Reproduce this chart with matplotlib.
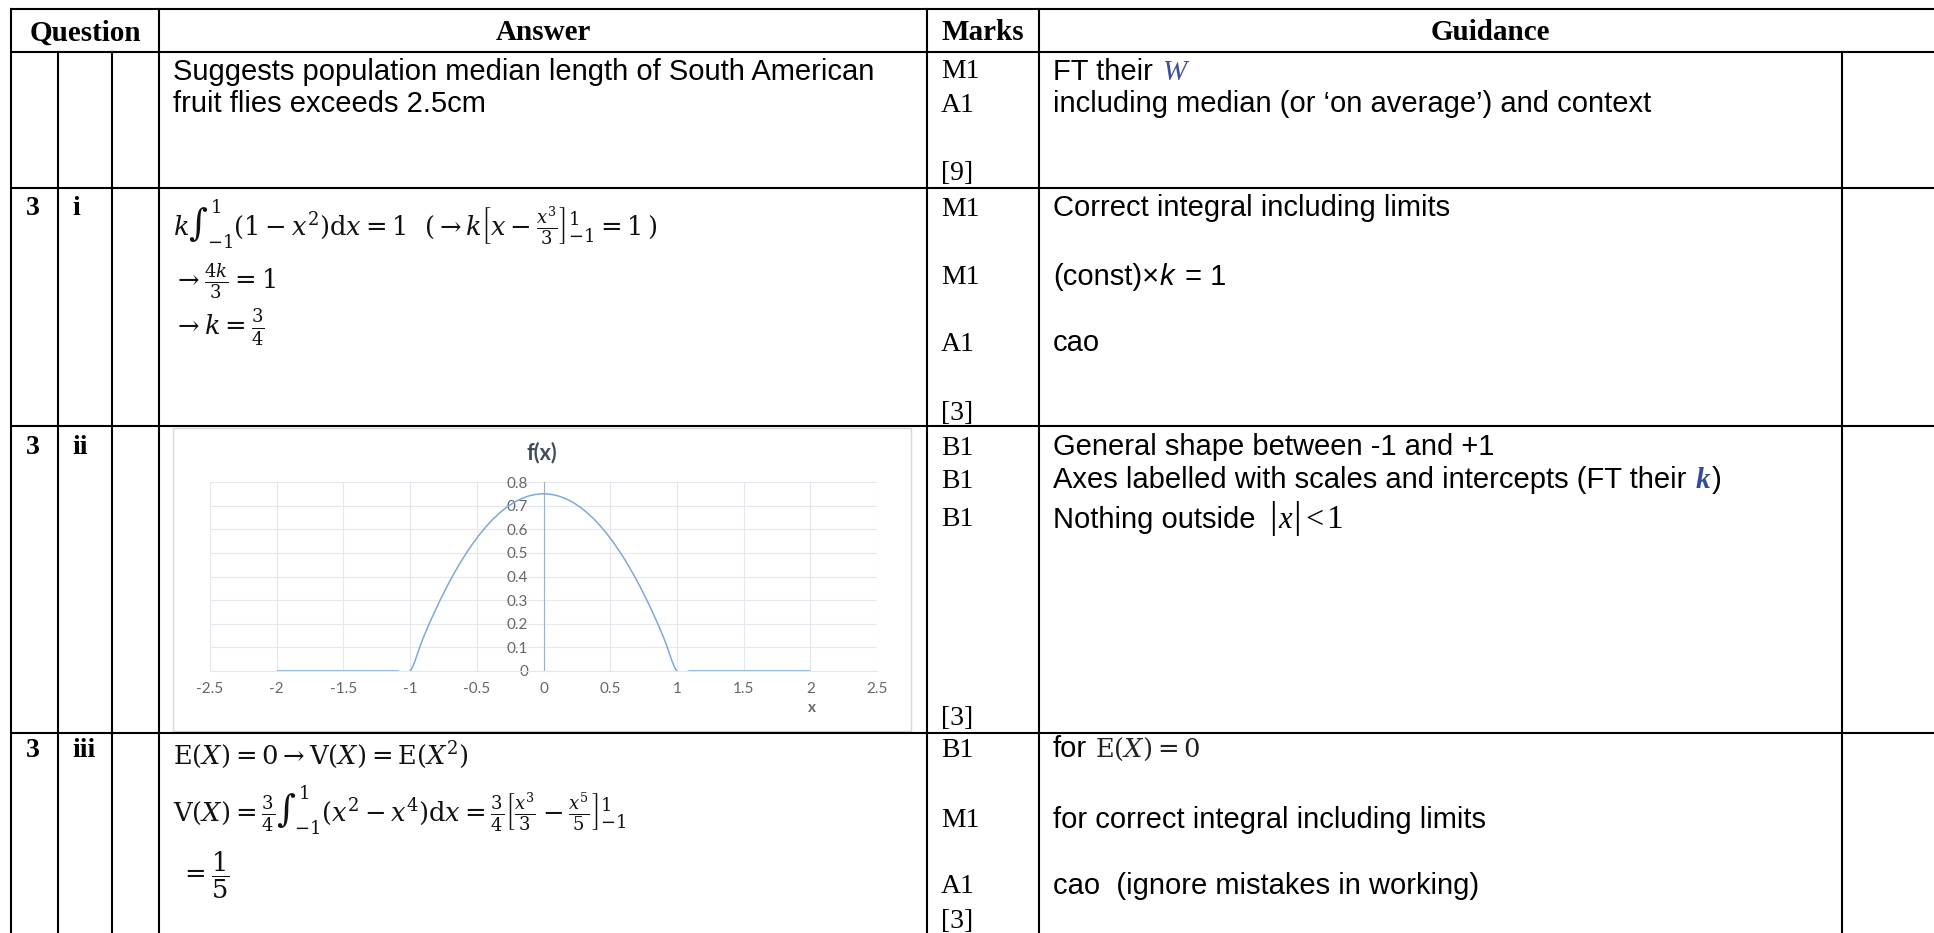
import numpy as np
import matplotlib
matplotlib.use('Agg')
import matplotlib.pyplot as plt
from matplotlib.path import Path
from matplotlib.patches import PathPatch, Rectangle
from matplotlib.mathtext import MathTextParser

W, H = 1934, 933
plt.rcParams['mathtext.fontset'] = 'dejavuserif'

# ---------------- data ----------------
headers = ["Question", "Answer", "Marks", "Guidance"]

x_vals = [-2.0, -1.9, -1.8, -1.7, -1.6, -1.5, -1.4, -1.3, -1.2, -1.1,
          -1.0, -0.9, -0.8, -0.7, -0.6, -0.5, -0.4, -0.3, -0.2, -0.1,
          0.0, 0.1, 0.2, 0.3, 0.4, 0.5, 0.6, 0.7, 0.8, 0.9,
          1.0, 1.1, 1.2, 1.3, 1.4, 1.5, 1.6, 1.7, 1.8, 1.9, 2.0]
f_vals = [0, 0, 0, 0, 0, 0, 0, 0, 0, 0,
          0, 0.1425, 0.27, 0.3825, 0.48, 0.5625, 0.63, 0.6825, 0.72, 0.7425,
          0.75, 0.7425, 0.72, 0.6825, 0.63, 0.5625, 0.48, 0.3825, 0.27, 0.1425,
          0, 0, 0, 0, 0, 0, 0, 0, 0, 0, 0]
x_ticks = [-2.5, -2, -1.5, -1, -0.5, 0, 0.5, 1, 1.5, 2, 2.5]
x_tick_labels = ["-2.5", "-2", "-1.5", "-1", "-0.5", "0", "0.5", "1", "1.5", "2", "2.5"]
y_ticks = [0, 0.1, 0.2, 0.3, 0.4, 0.5, 0.6, 0.7, 0.8]
y_tick_labels = ["0", "0.1", "0.2", "0.3", "0.4", "0.5", "0.6", "0.7", "0.8"]
chart_title = "f(x)"
x_axis_title = "x"

row1_answer = ["Suggests population median length of South American",
               "fruit flies exceeds 2.5cm"]
row1_marks = ["M1", "A1", "[9]"]
row1_guid2 = "including median (or \u2018on average\u2019) and context"

r3i_marks = ["M1", "M1", "A1", "[3]"]
r3ii_marks = ["B1", "B1", "B1", "[3]"]
r3iii_marks = ["B1", "M1", "A1", "[3]"]

# ---------------- figure ----------------
fig = plt.figure(figsize=(W / 100, H / 100), dpi=100)
ax0 = fig.add_axes([0, 0, 1, 1])
ax0.set_xlim(0, W)
ax0.set_ylim(H, 0)
ax0.axis('off')
renderer = fig.canvas.get_renderer()

SERIF = 'Liberation Serif'
SANS = 'Liberation Sans'
LW = 1.5
K = 'black'

def hline(y, x0, x1):
    ax0.plot([x0, x1], [y, y], color=K, lw=LW, solid_capstyle='projecting')

def vline(x, y0, y1):
    ax0.plot([x, x], [y0, y1], color=K, lw=LW, solid_capstyle='projecting')

# table grid
hline(9, 11, W)
hline(52, 11, W)
for yy in [188, 426, 733]:
    hline(yy, 11, W)
vline(11, 9, H)
vline(58, 52, H)
vline(112, 52, H)
vline(159, 9, H)
vline(927, 9, H)
vline(1039, 9, H)
vline(1842, 52, H)

# headers
hx = [85, 543, 983, 1490]
for h, x in zip(headers, hx):
    ax0.text(x, 33, h, ha='center', va='center', family=SERIF,
             weight='bold', fontsize=21)

# question labels
for lab, yb in [(("3", "i"), 215), (("3", "ii"), 454), (("3", "iii"), 757)]:
    ax0.text(26, yb, lab[0], ha='left', va='baseline', family=SERIF,
             weight='bold', fontsize=20)
    ax0.text(72, yb, lab[1], ha='left', va='baseline', family=SERIF,
             weight='bold', fontsize=20)

_parser = MathTextParser('path')
def safe(s, fallback):
    try:
        _parser.parse(s, dpi=72)
        return s
    except Exception:
        return fallback

def seq(x, y, parts, **common):
    for p in parts:
        if isinstance(p, (int, float)):
            x += p
            continue
        s, kw = p
        t = ax0.text(x, y, s, **{**common, **kw})
        bb = t.get_window_extent(renderer)
        x += bb.width
    return x

BODY = dict(family=SANS, fontsize=21, va='baseline', ha='left')
MARK = dict(family=SERIF, fontsize=20, va='baseline', ha='left')
MATH = dict(fontsize=18.5, va='center', ha='left', color='#111111')

# row 1
ax0.text(173, 80, row1_answer[0], **BODY)
ax0.text(173, 112, row1_answer[1], **BODY)
for s, yb in zip(row1_marks, [78, 112, 180]):
    ax0.text(941, yb, s, **MARK)
seq(1053, 80, [("FT their", {}), 9,
               ("W", dict(family=SERIF, style='italic', color='#3A4FA0'))], **BODY)
ax0.text(1053, 112, row1_guid2, **BODY)

# row 3 i
m1 = safe(r"$k\int_{-1}^{1}(1-x^2)\mathrm{d}x=1\ \ (\rightarrow k\left[x-\frac{x^3}{3}\right]_{-1}^{1}=1\,)$",
          r"$k\int_{-1}^{1}(1-x^2)\mathrm{d}x=1\ \ (\rightarrow k[x-\frac{x^3}{3}]_{-1}^{1}=1\,)$")
ax0.text(173, 224, m1, **MATH)
ax0.text(173, 281, r"$\rightarrow\frac{4k}{3}=1$", **MATH)
ax0.text(173, 328, r"$\rightarrow k=\frac{3}{4}$", **MATH)
for s, yb in zip(r3i_marks, [216, 284, 351, 420]):
    ax0.text(941, yb, s, **MARK)
ax0.text(1053, 216, "Correct integral including limits", **BODY)
seq(1053, 285, [("(const)\u00d7", {}), ("k", dict(style='italic')), 3,
                (" = 1", {})], **BODY)
ax0.text(1053, 351, "cao", **BODY)

# row 3 ii text
for s, yb in zip(r3ii_marks, [455, 488, 526, 725]):
    ax0.text(941, yb, s, **MARK)
ax0.text(1053, 455, "General shape between -1 and +1", **BODY)
seq(1053, 488, [("Axes labelled with scales and intercepts (FT their", {}), 9,
                ("k", dict(family=SERIF, style='italic', weight='bold',
                           color='#2F4F9A')), 2,
                (")", {})], **BODY)
seq(1053, 528, [("Nothing outside", {}), 14,
                ("|", dict(family=SERIF, fontsize=27)), 1,
                ("x", dict(family=SERIF, style='italic', fontsize=22)), 2,
                ("|", dict(family=SERIF, fontsize=27)), 4,
                ("<", dict(family=SERIF, fontsize=23)), 3,
                ("1", dict(family=SERIF, fontsize=24))], **BODY)

# row 3 iii
ax0.text(173, 755, r"$\mathrm{E}(X)=0\rightarrow\mathrm{V}(X)=\mathrm{E}(X^2)$", **MATH)
m2 = safe(r"$\mathrm{V}(X)=\frac{3}{4}\int_{-1}^{1}(x^2-x^4)\mathrm{d}x=\frac{3}{4}\left[\frac{x^3}{3}-\frac{x^5}{5}\right]_{-1}^{1}$",
          r"$\mathrm{V}(X)=\frac{3}{4}\int_{-1}^{1}(x^2-x^4)\mathrm{d}x=\frac{3}{4}[\frac{x^3}{3}-\frac{x^5}{5}]_{-1}^{1}$")
ax0.text(173, 810, m2, **MATH)
ax0.text(180, 875, r"$=\dfrac{1}{5}$", **MATH)
for s, yb in zip(r3iii_marks, [757, 827, 893, 928]):
    ax0.text(941, yb, s, **MARK)
seq(1053, 757, [("for", {}), 8,
                (r"$\mathrm{E}(X)=0$", dict(fontsize=18.5, color='#222222'))], **BODY)
ax0.text(1053, 828, "for correct integral including limits", **BODY)
ax0.text(1053, 894, "cao  (ignore mistakes in working)", **BODY)

# ---------------- embedded chart ----------------
ax0.add_patch(Rectangle((173, 428), 911 - 173, 731 - 428, fill=False,
                        edgecolor='#D9D9D9', lw=1.0))
ax0.text(542, 453, chart_title, ha='center', va='center', family='Lato',
         weight='bold', fontsize=15.5, color='#3F4B5C')

L, R, T, B = 210, 877, 482, 671
axc = fig.add_axes([L / W, 1 - B / H, (R - L) / W, (B - T) / H])
axc.patch.set_alpha(0)
axc.set_xlim(-2.5, 2.5)
axc.set_ylim(0, 0.8)
axc.set_xticks(x_ticks)
axc.set_xticklabels(x_tick_labels)
axc.set_yticks(y_ticks)
axc.set_yticklabels(y_tick_labels)
axc.grid(True, color='#E4E7EC', lw=0.8)
axc.set_axisbelow(True)
for s in ['top', 'right']:
    axc.spines[s].set_visible(False)
axc.spines['bottom'].set_color('#E4E7EC')
axc.spines['bottom'].set_linewidth(0.8)
axc.spines['left'].set_position(('data', 0))
axc.spines['left'].set_color('#9FB0C6')
axc.spines['left'].set_linewidth(0.8)
axc.tick_params(length=0, labelsize=11, labelcolor='#666666')
axc.tick_params(axis='x', pad=8)
axc.tick_params(axis='y', pad=11)
for lab in axc.get_xticklabels() + axc.get_yticklabels():
    lab.set_family('Lato')

def smooth_path(xs, ys):
    pts = np.column_stack([xs, ys]).astype(float)
    n = len(pts)
    verts = [pts[0]]
    codes = [Path.MOVETO]
    for i in range(n - 1):
        p0 = pts[max(i - 1, 0)]
        p1 = pts[i]
        p2 = pts[i + 1]
        p3 = pts[min(i + 2, n - 1)]
        verts += [p1 + (p2 - p0) / 6.0, p2 - (p3 - p1) / 6.0, p2]
        codes += [Path.CURVE4] * 3
    return Path(verts, codes)

axc.add_patch(PathPatch(smooth_path(x_vals, f_vals), fill=False,
                        edgecolor='#7FA9DA', lw=1.1, zorder=3))
ax0.text(812, 708, x_axis_title, ha='center', va='center', family='Lato',
         weight='bold', fontsize=11, color='#666666')

fig.savefig('out.png', dpi=100)
